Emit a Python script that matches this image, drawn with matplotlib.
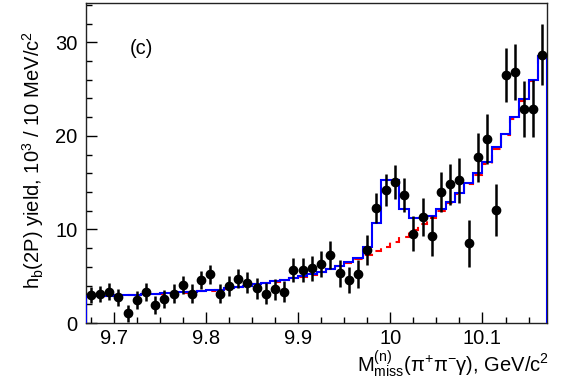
import numpy as np
import matplotlib
matplotlib.use('Agg')
import matplotlib.pyplot as plt
from matplotlib.ticker import MultipleLocator

plt.rcParams['font.family'] = ['Liberation Sans', 'DejaVu Sans']
plt.rcParams['mathtext.fontset'] = 'custom'
plt.rcParams['mathtext.rm'] = 'Liberation Sans'
plt.rcParams['mathtext.it'] = 'Liberation Sans:italic'

# 10 MeV bins, 9.67 .. 10.17 GeV
bin_lo = 9.67
bin_width = 0.01
n_bins = 50

# data points (10^3 per bin) and errors
yields = [3.0, 3.1, 3.35, 2.75, 1.03, 2.45, 3.35, 1.9, 2.55, 3.15,
          4.05, 3.15, 4.6, 5.2, 3.15, 3.95, 4.75, 4.3, 3.7, 3.15,
          3.6, 3.35, 5.65, 5.7, 5.85, 6.3, 7.25, 5.3, 4.6, 5.2,
          7.85, 12.25, 14.25, 15.1, 13.65, 9.55, 11.35, 9.3, 14.0, 14.85,
          15.25, 8.5, 17.7, 19.7, 12.1, 26.5, 26.8, 22.9, 22.9, 28.7]
errors = [0.9, 0.9, 0.9, 0.9, 0.9, 0.95, 0.95, 0.95, 0.95, 1.0,
          1.0, 1.0, 1.0, 1.05, 1.05, 1.05, 1.05, 1.1, 1.1, 1.1,
          1.1, 1.15, 1.3, 1.3, 1.35, 1.35, 1.5, 1.4, 1.4, 1.5,
          1.6, 1.6, 1.7, 1.8, 1.8, 1.85, 2.0, 2.1, 2.1, 2.2,
          2.4, 2.5, 2.6, 2.65, 2.8, 2.85, 3.0, 3.0, 3.05, 3.25]

# fit: signal + background (blue), background only (red dashed)
fit_total = [2.85, 2.88, 2.92, 2.96, 3.0, 3.04, 3.08, 3.12, 3.17, 3.22,
             3.27, 3.33, 3.4, 3.48, 3.58, 3.7, 3.84, 4.0, 4.15, 4.3,
             4.45, 4.62, 4.8, 4.98, 5.2, 5.45, 5.78, 6.12, 6.5, 6.95,
             8.15, 10.7, 15.25, 15.25, 12.2, 11.2, 11.2, 11.45, 12.15, 12.95,
             13.9, 15.0, 16.0, 17.2, 18.8, 20.2, 22.0, 23.9, 25.95, 28.5]
fit_bkg = [2.83, 2.86, 2.9, 2.94, 2.98, 3.02, 3.06, 3.1, 3.15, 3.2,
           3.25, 3.31, 3.38, 3.46, 3.56, 3.68, 3.82, 3.98, 4.13, 4.28,
           4.43, 4.6, 4.78, 4.96, 5.18, 5.43, 5.75, 6.08, 6.45, 6.85,
           7.25, 7.7, 8.15, 8.65, 9.2, 9.9, 10.6, 11.25, 11.95, 12.8,
           13.75, 14.85, 15.85, 17.05, 18.65, 20.05, 21.85, 23.75, 25.85, 28.4]

edges = bin_lo + bin_width * np.arange(n_bins + 1)
centers = 0.5 * (edges[:-1] + edges[1:])

fig = plt.figure(figsize=(5.63, 3.85), dpi=100)
ax = fig.add_axes([0.1528, 0.161, 0.8188, 0.831])

ax.stairs(fit_bkg, edges, baseline=None, color='red', lw=1.5,
          linestyle=(0, (4, 3)), zorder=2)
ax.stairs(fit_total, edges, baseline=0, color='blue', lw=1.5, zorder=3)
ax.errorbar(centers, yields, yerr=errors, fmt='o', color='black',
            ms=6, elinewidth=1.8, capsize=0, zorder=4)

ax.set_xlim(edges[0], edges[-1])
ax.set_ylim(0, 34.2)

ax.xaxis.set_major_locator(MultipleLocator(0.1))
ax.xaxis.set_minor_locator(MultipleLocator(0.025))
ax.yaxis.set_major_locator(MultipleLocator(10))
ax.yaxis.set_minor_locator(MultipleLocator(2))
ax.tick_params(which='both', direction='in', top=False, right=False,
               labelsize=14.5, width=1)
ax.tick_params(which='major', length=8)
ax.tick_params(axis='y', pad=6)
ax.tick_params(axis='x', pad=4)
ax.tick_params(which='minor', length=4)
ax.xaxis.set_major_formatter(plt.FuncFormatter(lambda v, p: f'{v:g}'))

for sp in ax.spines.values():
    sp.set_linewidth(1.0)
    sp.set_color('#222222')

ax.text(0.095, 0.84, '(c)', transform=ax.transAxes, fontsize=14.5)

fig.text(0.058, 0.585, r'h$_{\rm b}$(2P) yield, 10$^{3}$ / 10 MeV/c$^{2}$',
         rotation=90, ha='center', va='center', fontsize=14.5)
fig.text(0.975, 0.012, r'M$^{(\rm n)}_{\rm miss}$(π$^{+}$π$^{-}$γ), GeV/c$^{2}$',
         ha='right', va='bottom', fontsize=14.5)

fig.savefig('out.png', dpi=100)
